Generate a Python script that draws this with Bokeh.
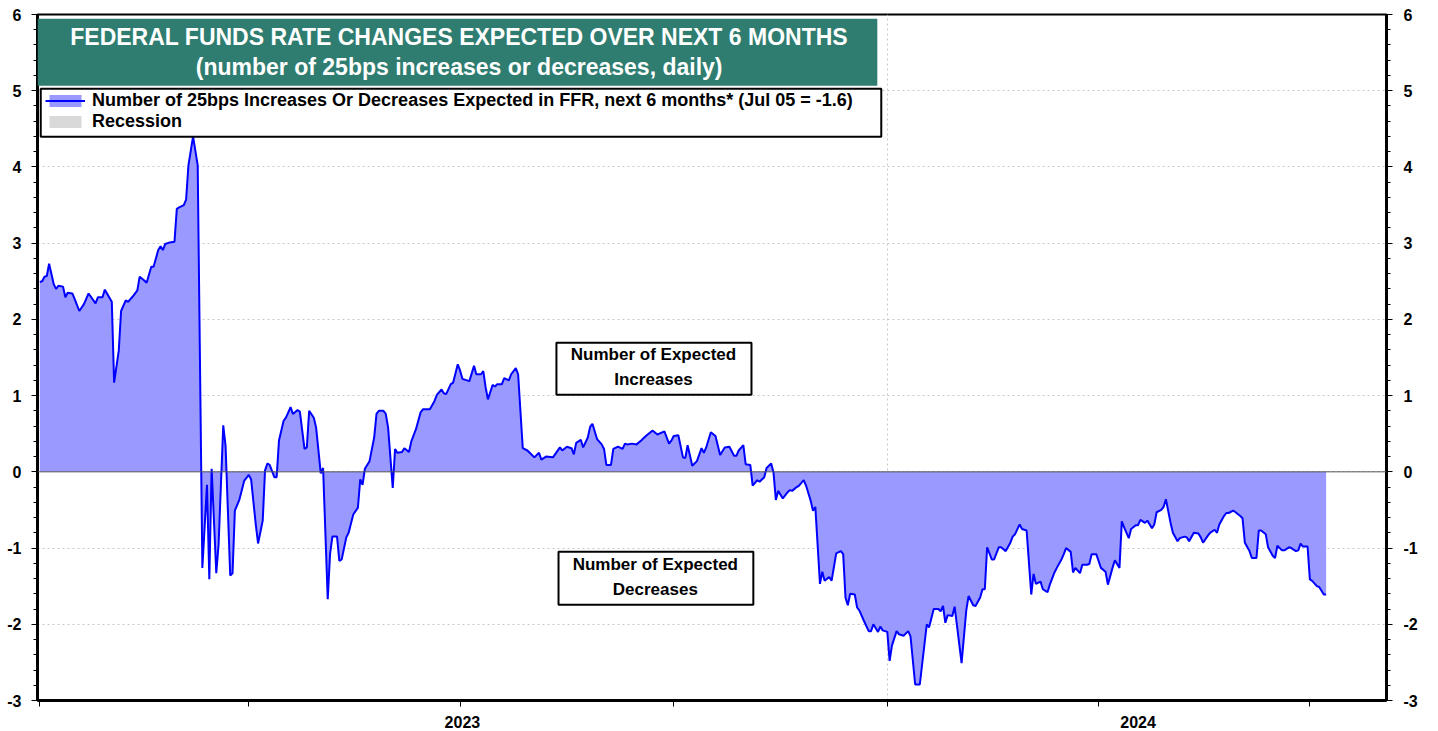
from bokeh.plotting import figure
from bokeh.models import (Range1d, LinearAxis, FixedTicker, BoxAnnotation, Label,
                          Span, Legend, LegendItem, ColumnDataSource)
from bokeh.embed import file_html
from bokeh.resources import INLINE

# ---- data ----
# days since 2023-01-01
day_offsets = [
    0, 1, 2, 3, 4, 6, 7, 8, 10, 11, 12, 14, 15, 17, 19, 21, 24, 25, 27, 28,
    31, 32, 34, 35, 37, 38, 40, 42, 43, 45, 46, 48, 49, 51, 52, 53, 54, 56, 58, 59,
    60, 62, 63, 64, 65, 66, 68, 70, 72, 73, 74, 76, 77, 79, 80, 82, 83, 84, 86, 88,
    90, 91, 93, 94, 96, 97, 98, 99, 101, 102, 103, 105, 106, 108, 109, 111, 112, 114, 115, 116,
    118, 119, 121, 122, 124, 125, 126, 128, 129, 130, 132, 133, 135, 137, 138, 139, 140, 142, 144, 145,
    146, 148, 149, 150, 152, 153, 154, 156, 157, 159, 160, 162, 164, 165, 168, 170, 171, 173, 174, 175,
    177, 178, 180, 181, 182, 185, 187, 188, 190, 191, 192, 193, 195, 196, 197, 199, 200, 202, 203, 205,
    206, 208, 210, 211, 213, 215, 216, 218, 221, 224, 225, 227, 229, 230, 231, 233, 234, 236, 237, 238,
    240, 242, 243, 244, 246, 247, 249, 251, 252, 253, 255, 257, 259, 261, 263, 264, 266, 269, 271, 272,
    273, 275, 277, 278, 279, 281, 283, 285, 286, 287, 289, 291, 293, 295, 297, 299, 300, 301, 303, 304,
    306, 307, 309, 310, 312, 313, 315, 316, 317, 318, 320, 322, 323, 324, 326, 327, 329, 330, 332, 333,
    334, 336, 337, 338, 340, 341, 343, 345, 346, 347, 348, 349, 351, 352, 353, 355, 357, 358, 359, 361,
    362, 363, 365, 366, 367, 369, 370, 372, 374, 375, 377, 379, 382, 383, 385, 387, 388, 389, 390, 391,
    393, 394, 397, 399, 400, 402, 403, 405, 406, 407, 408, 410, 411, 413, 414, 416, 418, 419, 420, 422,
    423, 425, 427, 428, 429, 431, 432, 434, 435, 437, 438, 440, 441, 442, 444, 445, 446, 448, 449, 451,
    452, 453, 455, 456, 457, 459, 460, 462, 463, 465, 466, 467, 469, 470, 472, 473, 474, 476, 477, 479,
    480, 481, 483, 484, 485, 487, 488, 490, 491, 493, 494, 495, 497, 499, 500, 501, 503, 504, 506, 507,
    508, 510, 511, 512, 514, 515, 517, 518, 519, 521, 522, 524, 525, 526, 528, 529, 531, 532, 533, 535,
    536, 538, 539, 541, 542, 543, 544, 546, 547, 548, 550, 551, 553, 554,
]
ffr_changes = [
    2.49, 2.50, 2.56, 2.57, 2.73, 2.46, 2.40, 2.44, 2.43, 2.29, 2.35, 2.34, 2.27, 2.11, 2.20, 2.34, 2.21, 2.29, 2.29, 2.39,
    2.23, 1.17, 1.59, 2.11, 2.25, 2.23, 2.30, 2.38, 2.56, 2.51, 2.48, 2.69, 2.69, 2.91, 2.96, 2.91, 2.99, 3.01, 3.02, 3.45,
    3.47, 3.50, 3.57, 4.02, 4.21, 4.40, 4.02, -1.26, -0.17, -1.41, 0.04, -1.33, -0.95, 0.61, 0.34, -1.36, -1.33, -0.51, -0.36, -0.12,
    -0.04, -0.10, -0.69, -0.94, -0.64, 0.02, 0.11, 0.09, -0.07, -0.07, 0.41, 0.67, 0.71, 0.85, 0.76, 0.81, 0.79, 0.30, 0.32, 0.80,
    0.71, 0.58, -0.02, 0.05, -1.67, -1.08, -0.85, -0.85, -1.17, -1.15, -0.86, -0.80, -0.56, -0.47, -0.10, -0.17, 0.04, 0.14, 0.45, 0.76,
    0.80, 0.80, 0.76, 0.58, -0.21, 0.30, 0.25, 0.26, 0.31, 0.26, 0.40, 0.56, 0.78, 0.82, 0.82, 0.93, 1.01, 1.08, 1.03, 1.02,
    1.15, 1.17, 1.41, 1.33, 1.22, 1.19, 1.39, 1.28, 1.28, 1.32, 1.11, 0.95, 1.14, 1.12, 1.15, 1.15, 1.23, 1.20, 1.28, 1.36,
    1.28, 0.31, 0.28, 0.25, 0.19, 0.25, 0.16, 0.20, 0.19, 0.32, 0.28, 0.33, 0.31, 0.23, 0.38, 0.42, 0.32, 0.45, 0.59, 0.63,
    0.43, 0.36, 0.30, 0.09, 0.09, 0.30, 0.33, 0.30, 0.37, 0.36, 0.37, 0.36, 0.41, 0.47, 0.52, 0.54, 0.49, 0.53, 0.37, 0.41,
    0.47, 0.48, 0.19, 0.18, 0.35, 0.08, 0.14, 0.31, 0.25, 0.32, 0.52, 0.47, 0.22, 0.32, 0.33, 0.21, 0.21, 0.28, 0.35, 0.10,
    0.09, -0.18, -0.11, -0.13, -0.07, 0.05, 0.11, -0.01, -0.37, -0.25, -0.35, -0.27, -0.24, -0.25, -0.20, -0.18, -0.11, -0.18, -0.38, -0.51,
    -0.46, -1.47, -1.31, -1.43, -1.38, -1.43, -1.07, -1.04, -1.08, -1.65, -1.75, -1.60, -1.61, -1.78, -1.82, -1.96, -2.09, -2.09, -2.00, -2.10,
    -2.03, -2.08, -2.10, -2.48, -2.28, -2.09, -2.13, -2.15, -2.09, -2.16, -2.79, -2.79, -2.00, -2.04, -1.80, -1.80, -1.83, -1.76, -1.98, -1.88,
    -1.89, -1.77, -2.51, -1.82, -1.63, -1.75, -1.76, -1.65, -1.54, -1.54, -0.99, -1.15, -1.15, -0.99, -0.99, -1.04, -0.93, -0.85, -0.82, -0.69,
    -0.75, -0.77, -1.61, -1.34, -1.47, -1.44, -1.54, -1.58, -1.48, -1.32, -1.26, -1.15, -1.08, -1.00, -1.05, -1.32, -1.26, -1.33, -1.22, -1.22,
    -1.21, -1.08, -1.08, -1.17, -1.26, -1.31, -1.48, -1.26, -1.16, -1.26, -0.65, -0.73, -0.87, -0.75, -0.70, -0.70, -0.63, -0.67, -0.64, -0.74,
    -0.69, -0.53, -0.50, -0.46, -0.36, -0.67, -0.80, -0.91, -0.87, -0.85, -0.86, -0.91, -0.80, -0.81, -0.86, -0.93, -0.84, -0.80, -0.76, -0.80,
    -0.69, -0.58, -0.54, -0.54, -0.51, -0.53, -0.58, -0.61, -0.93, -1.04, -1.13, -1.13, -0.77, -0.77, -0.82, -0.99, -1.10, -1.13, -0.97, -1.03,
    -1.03, -0.99, -1.00, -1.04, -1.03, -0.94, -0.98, -0.98, -1.41, -1.43, -1.50, -1.51, -1.61, -1.61,
]
# no recessions in the window (kept for the legend entry)
recession_start = []
recession_end = []

quarter_ticks = [0, 90, 181, 273, 365, 456, 547]   # Jan/Apr/Jul/Oct starts
year_label_pos = [182, 473]
year_labels = ["2023", "2024"]
y_ticks = [-3, -2, -1, 0, 1, 2, 3, 4, 5, 6]

title_1 = "FEDERAL FUNDS RATE CHANGES EXPECTED OVER NEXT 6 MONTHS"
title_2 = "(number of 25bps increases or decreases, daily)"
series_label = "Number of 25bps Increases Or Decreases Expected in FFR, next 6 months* (Jul 05 = -1.6)"

FONT = "Liberation Sans"
nan = float("nan")

p = figure(width=1438, height=731, output_backend="svg", toolbar_location=None,
           title=None, x_range=Range1d(-1, 580), y_range=Range1d(-3, 6),
           min_border_left=37, min_border_right=52, min_border_top=14, min_border_bottom=31,
           background_fill_color="white", border_fill_color="white")
p.outline_line_color = "black"
p.outline_line_width = 2

src = ColumnDataSource(data=dict(day=day_offsets, ffr=ffr_changes))
rec_src = ColumnDataSource(data=dict(
    left=recession_start if recession_start else [nan],
    right=recession_end if recession_end else [nan]))

area = p.varea(x="day", y1=0, y2="ffr", source=src, fill_color="#9999FF", fill_alpha=1)
line = p.line(x="day", y="ffr", source=src, line_color="#0000FF", line_width=2)
rec = p.quad(left="left", right="right", bottom=-3, top=6, source=rec_src,
             fill_color="#D9D9D9", fill_alpha=1, line_color=None, level="underlay")

# grids
p.ygrid.ticker = FixedTicker(ticks=y_ticks)
p.ygrid.grid_line_color = "#C8C8C8"
p.ygrid.grid_line_dash = "2 3"
p.ygrid.grid_line_width = 1
p.xgrid.ticker = FixedTicker(ticks=[365])
p.xgrid.grid_line_color = "#C8C8C8"
p.xgrid.grid_line_dash = "2 3"
p.xgrid.grid_line_width = 1

p.add_layout(Span(location=0, dimension="width", line_color="#555555", line_width=1))

# x axis
xa = p.xaxis[0]
xa.ticker = FixedTicker(ticks=year_label_pos, minor_ticks=quarter_ticks)
xa.major_label_overrides = {pos: lab for pos, lab in zip(year_label_pos, year_labels)}
xa.major_tick_out = 0
xa.major_tick_in = 0
xa.minor_tick_out = 6
xa.minor_tick_in = 0
xa.minor_tick_line_color = "black"
xa.minor_tick_line_width = 1
xa.axis_line_width = 3
xa.axis_line_color = "black"
xa.major_label_standoff = 9
xa.major_label_text_font = FONT
xa.major_label_text_font_style = "bold"
xa.major_label_text_font_size = "16px"
xa.major_label_text_color = "black"

# y axes
def style_y(ax, standoff):
    ax.ticker = FixedTicker(ticks=y_ticks,
                            minor_ticks=[round(-3 + 0.2 * i, 1) for i in range(46)])
    ax.major_label_overrides = {t: str(t) for t in y_ticks}
    ax.major_tick_out = 6
    ax.major_tick_in = 0
    ax.minor_tick_out = 4
    ax.minor_tick_in = 0
    ax.major_tick_line_color = "black"
    ax.minor_tick_line_color = "black"
    ax.axis_line_width = 3
    ax.axis_line_color = "black"
    ax.major_label_standoff = standoff
    ax.major_label_text_font = FONT
    ax.major_label_text_font_style = "bold"
    ax.major_label_text_font_size = "16px"
    ax.major_label_text_color = "black"

style_y(p.yaxis[0], 10)
right_axis = LinearAxis()
p.add_layout(right_axis, "right")
style_y(right_axis, 11)

# title box
p.add_layout(BoxAnnotation(left=-1, right=360.7, top=5.945, bottom=5.066,
                           fill_color="#2E7D70", fill_alpha=1, line_alpha=0))
p.add_layout(Label(x=180.6, y=5.71, text=title_1, text_align="center", text_baseline="middle",
                   text_color="white", text_font=FONT, text_font_style="bold",
                   text_font_size="23px"))
p.add_layout(Label(x=180.6, y=5.31, text=title_2, text_align="center", text_baseline="middle",
                   text_color="white", text_font=FONT, text_font_style="bold",
                   text_font_size="23px"))

# legend box
p.add_layout(BoxAnnotation(left=0.4, right=362.4, top=5.026, bottom=4.396,
                           fill_color="white", fill_alpha=1, line_color="black",
                           line_width=2, line_alpha=1))
legend = Legend(items=[LegendItem(label=series_label, renderers=[area, line]),
                       LegendItem(label="Recession", renderers=[rec])],
                location=(6, 566), margin=0, padding=2, spacing=0,
                glyph_width=40, glyph_height=15, label_height=20, label_standoff=7,
                label_text_font=FONT, label_text_font_style="bold",
                label_text_font_size="18px", label_text_color="black",
                background_fill_alpha=0, border_line_alpha=0)
p.add_layout(legend)

# annotation boxes
def note(left, right, top, bottom, cx, y1, y2, t1, t2):
    p.add_layout(BoxAnnotation(left=left, right=right, top=top, bottom=bottom,
                               fill_color="white", fill_alpha=1, line_color="black",
                               line_width=2, line_alpha=1))
    for yy, tt in ((y1, t1), (y2, t2)):
        p.add_layout(Label(x=cx, y=yy, text=tt, text_align="center", text_baseline="middle",
                           text_color="black", text_font=FONT, text_font_style="bold",
                           text_font_size="17px"))

note(222.5, 306.5, 1.693, 1.010, 264.3, 1.535, 1.207, "Number of Expected", "Increases")
note(223.4, 307.3, -1.050, -1.745, 265.1, -1.220, -1.549, "Number of Expected", "Decreases")

open("out.html", "w").write(file_html(p, INLINE))
